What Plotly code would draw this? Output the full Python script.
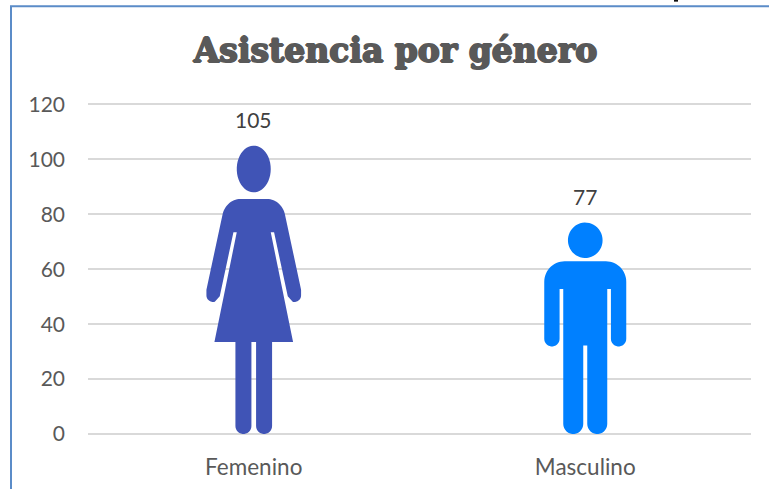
import numpy as np
import plotly.graph_objects as go

categories = ["Femenino", "Masculino"]
values = [105, 77]
colors = ["#4054B6", "#0080FF"]
tick_values = [0, 20, 40, 60, 80, 100, 120]
title = "Asistencia por género"


def arc(cx, cy, rx, ry, a0, a1, n=16):
    t = np.radians(np.linspace(a0, a1, n))
    return list(zip(cx + rx * np.cos(t), cy + ry * np.sin(t)))


def mirror(half, cx):
    return [(2 * cx - x, y) for x, y in reversed(half)]


# Icon silhouettes, in the icon's own drawing units (y grows downward)
def woman():
    cx = 220
    head = arc(cx, 208, 51, 70, 0, 360, 48)
    half = [(cx, 298), (180, 298)]
    half += arc(180, 358, 55, 60, 270, 193)
    half += [(78, 570)]
    half += arc(98, 587, 20, 20, 180, 75)
    half += [(118, 590), (159, 398), (169, 398), (102, 727), (165, 727)]
    half += arc(189, 979, 24, 24, 180, 0)
    half += [(213, 727), (cx, 727)]
    return head, half + mirror(half, cx), cx, 138, 1003


def man():
    cx = 197
    head = arc(cx, 182, 52, 53, 0, 360, 48)
    half = [(cx, 245), (135, 245)]
    half += arc(135, 306, 61, 61, 270, 180)
    half += [(74, 478)]
    half += arc(97, 477, 23, 23, 180, 0)
    half += [(120, 328), (131, 328), (131, 732)]
    half += arc(161, 732, 30, 30, 180, 0)
    half += [(191, 497), (cx, 497)]
    return head, half + mirror(half, cx), cx, 129, 762


shapes = [woman(), man()]
ZOOM = 3.0
CAT_PX = 331.5
PLOT_W = 663
PLOT_H = 335.5
BOTTOM = 434.5

fig = go.Figure()
for i, (cat, val, col) in enumerate(zip(categories, values, colors)):
    head, body, cx, top, bottom = shapes[i]
    xs, ys = [], []
    for part in (head, body):
        for px, py in part:
            xs.append(i + (px - cx) / ZOOM / CAT_PX)
            ys.append(val * (bottom - py) / (bottom - top))
        xs.append(None)
        ys.append(None)
    fig.add_trace(go.Scatter(x=xs, y=ys, mode="lines", fill="toself", fillcolor=col,
                             line=dict(width=0, color=col, simplify=False), name=cat,
                             showlegend=False, hoverinfo="skip"))
    fig.add_annotation(x=i, y=val, xref="x", yref="y", text=str(val), showarrow=False,
                       yanchor="bottom", yshift=12,
                       font=dict(family="Lato", size=21, color="#404040"))

y_font = dict(family="Lato", size=21, color="#595959")
x_font = dict(family="Lato", size=22.5, color="#595959")
shadow = ",".join(f"{dx}px {dy}px 0 #595959" for dx, dy in
                  [(1, 0), (-1, 0), (0, 1), (0, -1)])
fig.update_layout(
    width=769, height=489,
    margin=dict(l=88, r=18, t=99, b=54.5, autoexpand=False),
    paper_bgcolor="white", plot_bgcolor="white",
    showlegend=False,
    title=dict(text="<b>" + title + "</b>", x=395.5 / 769, xanchor="center",
               y=1 - 50 / 489, yanchor="middle",
               font=dict(family="DejaVu Serif", size=33, color="#595959", shadow=shadow)),
    xaxis=dict(range=[-0.5, 1.5], tickvals=[0, 1], ticktext=categories, tickfont=x_font,
               showgrid=False, zeroline=False, showline=False, ticks="",
               ticklabelstandoff=17, automargin=False, fixedrange=True),
    yaxis=dict(range=[0, 122], tickvals=tick_values, tickfont=y_font,
               gridcolor="#D9D9D9", gridwidth=2, zeroline=True, zerolinecolor="#D9D9D9",
               zerolinewidth=2, showline=False, ticks="", ticklabelstandoff=22,
               automargin=False, fixedrange=True),
    shapes=[
        dict(type="rect", xref="paper", yref="paper", layer="below",
             x0=(11 - 88) / PLOT_W, x1=(800 - 88) / PLOT_W,
             y0=(BOTTOM - 520) / PLOT_H, y1=(BOTTOM - 6) / PLOT_H,
             line=dict(color="#5B8CC8", width=2), fillcolor="rgba(0,0,0,0)"),
        # small dark speck above the frame in the reference
        dict(type="rect", xref="paper", yref="paper", layer="below",
             x0=(674 - 88) / PLOT_W, x1=(678 - 88) / PLOT_W,
             y0=(BOTTOM - 1.5) / PLOT_H, y1=(BOTTOM + 2) / PLOT_H,
             line=dict(width=0), fillcolor="#111111"),
    ],
)
fig.write_html("out.html", post_script="document.body.style.margin='0';",
               config={"displayModeBar": False})
